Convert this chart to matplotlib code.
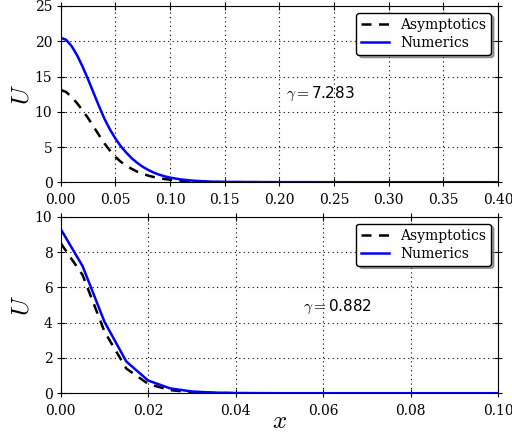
import matplotlib
matplotlib.use('Agg')
import matplotlib.pyplot as plt
import numpy as np

plt.rcParams['font.family'] = 'serif'
plt.rcParams['font.serif'] = ['DejaVu Serif']
plt.rcParams['mathtext.fontset'] = 'cm'
plt.rcParams['xtick.direction'] = 'inout'
plt.rcParams['ytick.direction'] = 'inout'
plt.rcParams['xtick.top'] = True
plt.rcParams['ytick.right'] = True
plt.rcParams['xtick.major.size'] = 6
plt.rcParams['ytick.major.size'] = 6

# top panel: gamma = 7.283
x_top = [0.0, 0.005, 0.01, 0.015, 0.02, 0.025, 0.03, 0.035, 0.04, 0.045,
         0.05, 0.055, 0.06, 0.065, 0.07, 0.075, 0.08, 0.085, 0.09, 0.095,
         0.10, 0.11, 0.12, 0.13, 0.14, 0.15, 0.20, 0.30, 0.40]
num_top = [20.5, 20.2, 19.3, 18.0, 16.4, 14.6, 12.7, 10.8, 9.0, 7.5,
           6.2, 5.1, 4.2, 3.4, 2.75, 2.2, 1.75, 1.38, 1.08, 0.85,
           0.66, 0.4, 0.24, 0.14, 0.08, 0.05, 0.02, 0.01, 0.01]
asy_top = [13.1, 12.8, 12.1, 11.2, 10.2, 9.1, 7.9, 6.7, 5.5, 4.5,
           3.6, 2.9, 2.35, 1.9, 1.5, 1.2, 0.95, 0.75, 0.6, 0.46,
           0.36, 0.21, 0.12, 0.07, 0.04, 0.02, 0.0, 0.0, 0.0]

# bottom panel: gamma = 0.882
x_bot = [0.0, 0.005, 0.01, 0.015, 0.02, 0.025, 0.03, 0.035, 0.04, 0.045,
         0.05, 0.06, 0.07, 0.08, 0.09, 0.10]
num_bot = [9.3, 7.2, 4.05, 1.8, 0.72, 0.28, 0.1, 0.04, 0.015, 0.01,
           0.005, 0.005, 0.005, 0.005, 0.005, 0.005]
asy_bot = [8.5, 6.7, 3.5, 1.4, 0.53, 0.18, 0.06, 0.02, 0.01, 0.0,
           0.0, 0.0, 0.0, 0.0, 0.0, 0.0]

fig = plt.figure(figsize=(5.12, 4.34), dpi=100)
ax1 = fig.add_axes([0.1186, 0.580, 0.8541, 0.4062])
ax2 = fig.add_axes([0.1186, 0.0938, 0.8541, 0.4069])

panels = [(ax1, x_top, asy_top, num_top, r'$\gamma=$7.283', (0.206, 12.6),
           np.arange(0, 0.401, 0.05), np.arange(0, 26, 5), (0, 0.4), (0, 25)),
          (ax2, x_bot, asy_bot, num_bot, r'$\gamma=$0.882', (0.0553, 4.87),
           np.arange(0, 0.101, 0.02), np.arange(0, 11, 2), (0, 0.1), (0, 10))]

for ax, xx, asy, num, lab, pos, xt, yt, xl, yl in panels:
    ax.plot(xx, asy, 'k--', lw=1.8, dashes=(4, 3), label='Asymptotics')
    ax.plot(xx, num, color='b', lw=1.8, label='Numerics')
    ax.set_xlim(xl)
    ax.set_ylim(yl)
    ax.set_xticks(xt)
    ax.set_yticks(yt)
    ax.xaxis.set_major_formatter(matplotlib.ticker.FormatStrFormatter('%.2f'))
    ax.tick_params(axis='x', labelsize=10, pad=5)
    ax.tick_params(axis='y', labelsize=10, pad=3)
    ax.grid(True, color='k', ls=(0, (1, 3)), lw=0.8)
    ax.set_ylabel(r'$U$', fontsize=18, labelpad=1)
    ax.text(pos[0], pos[1], lab, fontsize=11, va='center', ha='left',
            family='DejaVu Sans')
    leg = ax.legend(loc='upper right', fontsize=10, fancybox=True, shadow=True,
                    handlelength=2.0, borderaxespad=0.5, framealpha=1,
                    borderpad=0.35, labelspacing=0.3, handletextpad=0.8)
    leg.get_frame().set_edgecolor('k')

ax2.set_xlabel(r'$x$', fontsize=18, labelpad=-6)

fig.savefig('out.png', dpi=100)
